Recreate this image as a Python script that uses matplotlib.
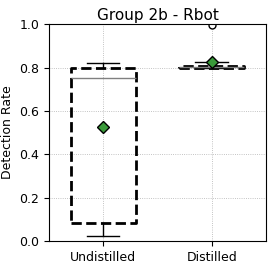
import matplotlib
matplotlib.use("Agg")
import matplotlib.pyplot as plt

labels = ["Undistilled", "Distilled"]
whislo = [0.024, 0.800]
q1 = [0.084, 0.800]
med = [0.752, 0.803]
q3 = [0.800, 0.805]
whishi = [0.823, 0.826]
means = [0.524, 0.826]
fliers = [[], [0.995]]

stats = []
for i in range(len(labels)):
    stats.append(dict(label=labels[i], whislo=whislo[i], q1=q1[i], med=med[i],
                      q3=q3[i], whishi=whishi[i], mean=means[i], fliers=fliers[i]))

fig = plt.figure(figsize=(2.78, 2.68), dpi=100)
ax = fig.add_axes([0.176, 0.1007, 0.781, 0.809])

ax.bxp(stats, widths=0.6, showmeans=True, patch_artist=False,
       boxprops=dict(color="black", linestyle="--", linewidth=2),
       medianprops=dict(color="gray", linewidth=1),
       whiskerprops=dict(color="black", linewidth=1),
       capprops=dict(color="black", linewidth=1),
       meanprops=dict(marker="D", markerfacecolor="#3a9a3a", markeredgecolor="black",
                      markersize=6),
       flierprops=dict(marker="o", markerfacecolor="white", markeredgecolor="black",
                       markersize=5))

ax.set_ylim(0, 1.0)
ax.set_xlim(0.5, 2.5)
ax.set_ylabel("Detection Rate", fontsize=9)
ax.set_title("Group 2b - Rbot", fontsize=11, pad=3)
ax.tick_params(labelsize=9)
ax.grid(True, linestyle=":", color="#b0b0b0", linewidth=0.6)
ax.set_axisbelow(True)

fig.savefig("out.png", dpi=100)
